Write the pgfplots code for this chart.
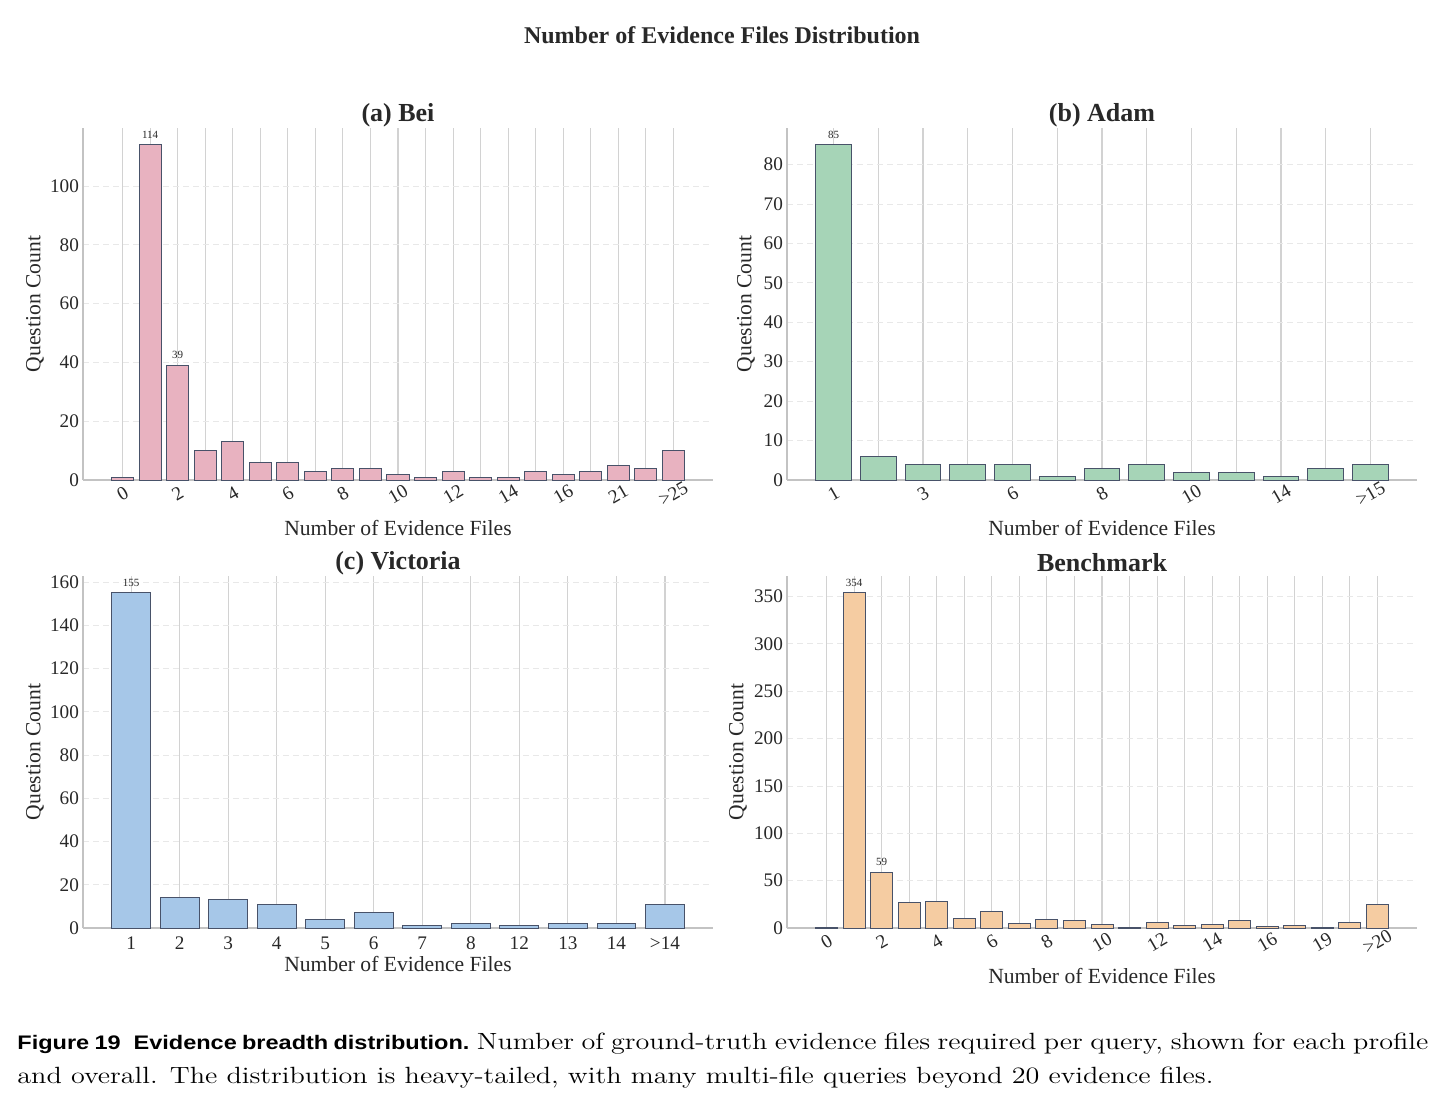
\documentclass[border=0pt]{standalone}
\usepackage{fontspec}
\usepackage{pgfplots}
\pgfplotsset{compat=1.18}
\newfontfamily\tms{Liberation Serif}
\newfontfamily\hsans{Liberation Sans}

\definecolor{beibar}{RGB}{232,178,192}
\definecolor{adambar}{RGB}{166,212,183}
\definecolor{vicbar}{RGB}{166,199,232}
\definecolor{benchbar}{RGB}{245,204,162}
\definecolor{baredge}{RGB}{72,82,105}
\definecolor{spine}{RGB}{195,195,195}
\definecolor{vgrid}{RGB}{210,210,210}
\definecolor{hgrid}{RGB}{232,232,232}
\definecolor{txt}{RGB}{40,40,40}

\pgfplotsset{
  panel/.style={
    scale only axis, width=315pt, height=176pt,
    axis x line*=bottom, axis y line*=left,
    axis line style={spine, line width=0.8pt},
    ybar, bar width=0.8, ymin=0,
    major tick length=0pt, minor tick length=0pt,
    xmajorgrids, xminorgrids, ymajorgrids,
    x grid style={vgrid, line width=0.55pt},
    minor x grid style={vgrid, line width=0.55pt},
    y grid style={hgrid, dash pattern=on 3pt off 2pt, line width=0.4pt},
    /pgf/number format/assume math mode=true,
    tick label style={font=\tms\fontsize{9.6}{11}\selectfont, text=txt},
    yticklabel style={xshift=1.5pt},
    label style={font=\tms\fontsize{10.8}{13}\selectfont, text=txt},
    every axis title/.style={font=\tms\bfseries\fontsize{13}{15}\selectfont,
                 text=txt, at={(0.5,1)}, anchor=center, yshift=6.5pt},
    ylabel={Question Count},
    xlabel={Number of Evidence Files},
    xlabel style={at={(axis description cs:0.5,-0.136)}, anchor=center},
    ylabel style={at={(axis description cs:-0.0762,0.5)}, anchor=center},
  },
  tilted/.style={xticklabel style={yshift=-7pt, rotate=30, anchor=center}},
  barstyle/.style={fill=#1, draw=baredge, line width=0.5pt, bar shift=0pt},
  % invisible bars that only carry the value labels of the tall bars
  valuelabels/.style={draw=none, fill=none, bar shift=0pt, forget plot,
    nodes near coords,
    every node near coord/.append style={font=\tms\fontsize{5.5}{6.5}\selectfont,
                 text=txt, inner sep=1pt, yshift=2pt}},
}

\begin{document}
\begin{tikzpicture}
\useasboundingbox (0,0) rectangle (721.5pt,552pt);

\node[font=\tms\bfseries\fontsize{12}{14}\selectfont, text=txt]
  at (361pt,534.5pt) {Number of Evidence Files Distribution};

% (a) Bei
\begin{axis}[panel, tilted, at={(41.5pt,312pt)}, anchor=south west,
  title={(a) Bei},
  xmin=-1.44, xmax=21.44, ymax=119.7,
  xtick={0,2,...,20}, minor xtick={1,3,...,19},
  xticklabels={0,2,4,6,8,10,12,14,16,21,>25},
  ytick={0,20,40,60,80,100}]
\addplot[barstyle=beibar] coordinates {
  (0,1) (1,114) (2,39) (3,10) (4,13) (5,6) (6,6) (7,3) (8,4) (9,4) (10,2)
  (11,1) (12,3) (13,1) (14,1) (15,3) (16,2) (17,3) (18,5) (19,4) (20,10)};
\addplot[valuelabels] coordinates {(1,114) (2,39)};
\end{axis}

% (b) Adam
\begin{axis}[panel, tilted, at={(393.5pt,312pt)}, anchor=south west,
  title={(b) Adam},
  ylabel style={at={(axis description cs:-0.065,0.5)}},
  xmin=-1.04, xmax=13.04, ymax=89.25,
  xtick={0,2,...,12}, minor xtick={1,3,...,11},
  xticklabels={1,3,6,8,10,14,>15},
  ytick={0,10,...,80}]
\addplot[barstyle=adambar] coordinates {
  (0,85) (1,6) (2,4) (3,4) (4,4) (5,1) (6,3) (7,4) (8,2) (9,2) (10,1)
  (11,3) (12,4)};
\addplot[valuelabels] coordinates {(0,85)};
\end{axis}

% (c) Victoria
\begin{axis}[panel, at={(41.5pt,88pt)}, anchor=south west,
  title={(c) Victoria},
  xlabel style={at={(axis description cs:0.5,-0.102)}},
  xticklabel style={yshift=-1pt},
  xmin=-0.99, xmax=11.99, ymax=162.75,
  xtick={0,...,11},
  xticklabels={1,2,3,4,5,6,7,8,12,13,14,>14},
  ytick={0,20,...,160}]
\addplot[barstyle=vicbar] coordinates {
  (0,155) (1,14) (2,13) (3,11) (4,4) (5,7) (6,1) (7,2) (8,1) (9,2) (10,2)
  (11,11)};
\addplot[valuelabels] coordinates {(0,155)};
\end{axis}

% Benchmark (all profiles)
\begin{axis}[panel, tilted, at={(393.5pt,88pt)}, anchor=south west,
  title={Benchmark},
  ylabel style={at={(axis description cs:-0.0778,0.5)}},
  xmin=-1.44, xmax=21.44, ymax=371.7,
  xtick={0,2,...,20}, minor xtick={1,3,...,19},
  xticklabels={0,2,4,6,8,10,12,14,16,19,>20},
  ytick={0,50,...,350}]
\addplot[barstyle=benchbar] coordinates {
  (0,1) (1,354) (2,59) (3,27) (4,28) (5,10) (6,17) (7,5) (8,9) (9,8) (10,4)
  (11,1) (12,6) (13,3) (14,4) (15,8) (16,2) (17,3) (18,1) (19,6) (20,25)};
\addplot[valuelabels] coordinates {(1,354) (2,59)};
\end{axis}

% caption
\node[anchor=base west, inner sep=0pt, font=\fontsize{11.74}{14}\selectfont]
  at (8.5pt,27.5pt)
  {\scalebox{1.2}[1]{\makebox[587.9pt][s]{{\hsans\bfseries\fontsize{9.8}{12}\selectfont Figure 19\hspace{0.55em}Evidence breadth distribution.}\ Number of ground-truth evidence files required per query, shown for each profile}}};
\node[anchor=base west, inner sep=0pt, font=\fontsize{11.74}{14}\selectfont]
  at (8.5pt,10.5pt)
  {\scalebox{1.2}[1]{and overall. The distribution is heavy-tailed, with many multi-file queries beyond 20 evidence files.}};
\end{tikzpicture}
\end{document}
